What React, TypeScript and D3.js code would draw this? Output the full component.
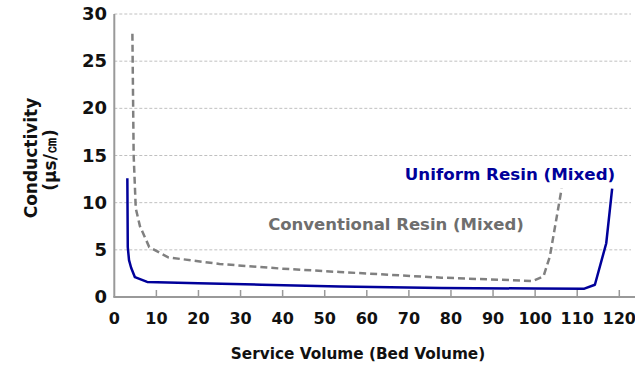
import React, { useEffect, useRef } from 'react';
import * as d3 from 'd3';

// Uniform resin (mixed) - [bed volume, conductivity]
const uniformX = [3.1, 3.2, 3.5, 4.0, 4.9, 7.8, 20, 35, 53.5, 77.7, 100, 111.7, 114.2, 116.9, 118.3];
const uniformY = [12.6, 5.3, 3.9, 3.1, 2.1, 1.6, 1.45, 1.3, 1.1, 0.95, 0.9, 0.88, 1.3, 5.7, 11.5];

// Conventional resin (mixed)
const convX = [4.3, 4.6, 5.1, 6.1, 8.3, 12.8, 25, 40, 53.5, 77.7, 99.5, 102, 103.5, 106.3];
const convY = [27.9, 15, 9.4, 7.5, 5.3, 4.2, 3.5, 3.0, 2.65, 2.05, 1.7, 2.2, 4.3, 11.5];

const xTicks = [0, 10, 20, 30, 40, 50, 60, 70, 80, 90, 100, 110, 120];
const yTicks = [0, 5, 10, 15, 20, 25, 30];

const W = 635;
const H = 365;
const FONT = "'DejaVu Sans', Verdana, sans-serif";

export default function App() {
  const ref = useRef<SVGSVGElement>(null);

  useEffect(() => {
    const svg = d3.select(ref.current);
    svg.selectAll('*').remove();

    const x = d3.scaleLinear().domain([0, 120]).range([114.3, 619.3]);
    const y = d3.scaleLinear().domain([0, 30]).range([297, 14]);

    //grid lines
    svg.append('g')
      .selectAll('line')
      .data(yTicks.filter(d => d > 0))
      .enter().append('line')
      .attr('x1', x(0))
      .attr('x2', W - 4)
      .attr('y1', d => y(d))
      .attr('y2', d => y(d))
      .attr('stroke', '#c0c0c0')
      .attr('stroke-width', 1)
      .attr('stroke-dasharray', '3,2');

    //axes
    svg.append('line')
      .attr('x1', x(0)).attr('x2', x(0))
      .attr('y1', y(30)).attr('y2', y(0))
      .attr('stroke', '#999').attr('stroke-width', 2);
    svg.append('line')
      .attr('x1', x(0) - 1).attr('x2', W)
      .attr('y1', y(0)).attr('y2', y(0))
      .attr('stroke', '#999').attr('stroke-width', 2);

    svg.append('g')
      .selectAll('line')
      .data(xTicks.filter(d => d > 0))
      .enter().append('line')
      .attr('x1', d => x(d)).attr('x2', d => x(d))
      .attr('y1', y(0)).attr('y2', y(0) - 7)
      .attr('stroke', '#999').attr('stroke-width', 1.5);

    //tick labels
    svg.append('g')
      .selectAll('text')
      .data(xTicks)
      .enter().append('text')
      .attr('x', d => x(d))
      .attr('y', 324)
      .attr('text-anchor', 'middle')
      .style('font', `bold 16px ${FONT}`)
      .attr('fill', '#111')
      .text(d => d);

    svg.append('g')
      .selectAll('text')
      .data(yTicks)
      .enter().append('text')
      .attr('x', 107)
      .attr('y', d => y(d) + 6)
      .attr('text-anchor', 'end')
      .style('font', `bold 18px ${FONT}`)
      .attr('fill', '#111')
      .text(d => d);

    //series
    const line = d3.line<[number, number]>()
      .x(d => x(d[0]))
      .y(d => y(d[1]));

    svg.append('path')
      .datum(convX.map((v, i) => [v, convY[i]] as [number, number]))
      .attr('d', line)
      .attr('fill', 'none')
      .attr('stroke', '#808080')
      .attr('stroke-width', 2.5)
      .attr('stroke-dasharray', '7,4');

    svg.append('path')
      .datum(uniformX.map((v, i) => [v, uniformY[i]] as [number, number]))
      .attr('d', line)
      .attr('fill', 'none')
      .attr('stroke', '#00009a')
      .attr('stroke-width', 2.5)
      .attr('stroke-linejoin', 'round');

    //annotations
    svg.append('text')
      .attr('x', 510).attr('y', 180)
      .attr('text-anchor', 'middle')
      .style('font', `bold 16.7px ${FONT}`)
      .attr('fill', '#00009a')
      .text('Uniform Resin (Mixed)');

    svg.append('text')
      .attr('x', 396).attr('y', 230)
      .attr('text-anchor', 'middle')
      .style('font', `bold 16.5px ${FONT}`)
      .attr('fill', '#6e6e6e')
      .text('Conventional Resin (Mixed)');

    //axis titles
    const yt = svg.append('text')
      .attr('transform', 'translate(0,158) rotate(-90)')
      .attr('text-anchor', 'middle')
      .style('font', `bold 17px ${FONT}`)
      .attr('fill', '#111');
    yt.append('tspan').attr('x', 0).attr('y', 37).text('Conductivity');
    yt.append('tspan').attr('x', 0).attr('y', 56).attr('dx', -2).text('(μs/㎝)');

    svg.append('text')
      .attr('x', 358).attr('y', 359)
      .attr('text-anchor', 'middle')
      .style('font', `bold 15.3px ${FONT}`)
      .attr('fill', '#111')
      .text('Service Volume (Bed Volume)');
  }, []);

  return (
    <svg ref={ref} width={W} height={H}
      style={{ position: 'absolute', left: 0, top: 0, background: '#fff' }} />
  );
}
